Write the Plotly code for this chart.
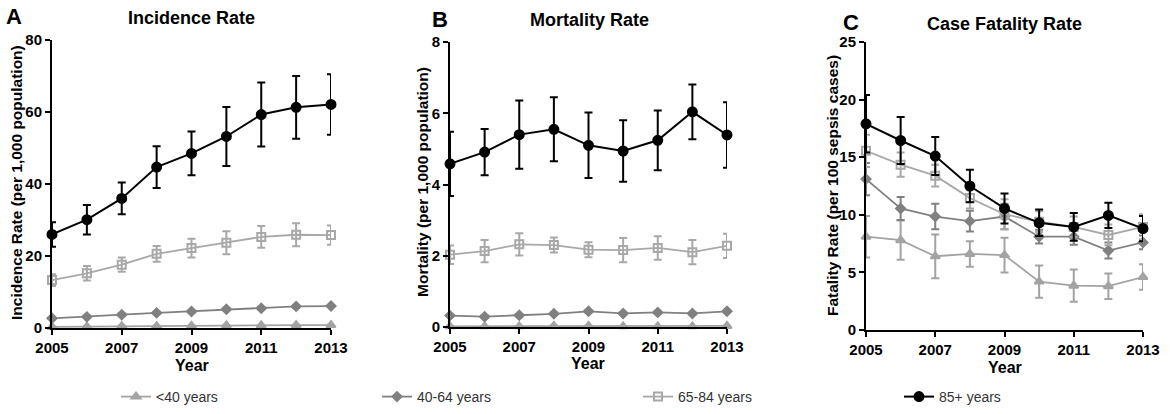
import plotly.graph_objects as go

years = [2005, 2006, 2007, 2008, 2009, 2010, 2011, 2012, 2013]
groups = ["<40 years", "40-64 years", "65-84 years", "85+ years"]

# Panel A: Incidence rate (per 1,000 population)
inc_lt40 = [0.3, 0.4, 0.5, 0.5, 0.6, 0.7, 0.7, 0.8, 0.8]
inc_lt40_err = [0.1, 0.1, 0.1, 0.1, 0.1, 0.1, 0.1, 0.1, 0.1]
inc_40_64 = [2.7, 3.1, 3.7, 4.2, 4.6, 5.2, 5.5, 6.0, 6.1]
inc_40_64_err = [0.3, 0.3, 0.3, 0.3, 0.3, 0.3, 0.3, 0.3, 0.3]
inc_65_84 = [13.3, 15.2, 17.6, 20.6, 22.2, 23.7, 25.3, 25.9, 25.8]
inc_65_84_err = [1.6, 2.0, 2.0, 2.2, 2.6, 3.2, 3.0, 3.2, 2.7]
inc_85 = [26.0, 30.1, 36.0, 44.7, 48.5, 53.2, 59.3, 61.3, 62.1]
inc_85_err = [3.4, 4.1, 4.4, 5.8, 6.1, 8.2, 8.9, 8.7, 8.4]

# Panel B: Mortality (per 1,000 population)
mort_lt40 = [0.02, 0.02, 0.02, 0.03, 0.03, 0.02, 0.02, 0.02, 0.03]
mort_lt40_err = [0.01, 0.01, 0.01, 0.01, 0.01, 0.01, 0.01, 0.01, 0.01]
mort_40_64 = [0.32, 0.29, 0.33, 0.37, 0.44, 0.38, 0.41, 0.38, 0.44]
mort_40_64_err = [0.03, 0.03, 0.03, 0.03, 0.03, 0.03, 0.03, 0.03, 0.03]
mort_65_84 = [2.03, 2.13, 2.32, 2.30, 2.17, 2.16, 2.22, 2.10, 2.28]
mort_65_84_err = [0.26, 0.31, 0.31, 0.21, 0.21, 0.34, 0.33, 0.34, 0.34]
mort_85 = [4.58, 4.91, 5.40, 5.55, 5.10, 4.94, 5.24, 6.04, 5.39]
mort_85_err = [0.90, 0.65, 0.96, 0.90, 0.92, 0.86, 0.84, 0.77, 0.92]

# Panel C: Case fatality (per 100 sepsis cases)
cfr_lt40 = [8.1, 7.8, 6.4, 6.6, 6.5, 4.2, 3.85, 3.8, 4.6]
cfr_lt40_err = [1.8, 1.7, 1.9, 1.1, 1.5, 1.4, 1.4, 1.1, 1.1]
cfr_40_64 = [13.1, 10.55, 9.85, 9.45, 9.85, 8.1, 8.1, 6.9, 7.6]
cfr_40_64_err = [1.4, 1.0, 1.1, 0.9, 1.1, 0.6, 0.7, 0.7, 0.6]
cfr_65_84 = [15.55, 14.35, 13.4, 11.45, 10.05, 9.4, 8.95, 8.25, 8.95]
cfr_65_84_err = [1.4, 1.05, 0.95, 0.9, 1.3, 0.9, 0.9, 0.9, 1.1]
cfr_85 = [17.9, 16.45, 15.1, 12.5, 10.55, 9.3, 8.95, 9.95, 8.8]
cfr_85_err = [2.5, 2.05, 1.65, 1.4, 1.3, 1.15, 1.2, 1.1, 1.1]

styles = {
    "<40 years": dict(color="#a3a3a3", symbol="triangle-up", fill="#a3a3a3", size=8),
    "40-64 years": dict(color="#808080", symbol="diamond", fill="#808080", size=7),
    "65-84 years": dict(color="#a8a8a8", symbol="square-open", fill="#a8a8a8", size=8),
    "85+ years": dict(color="#000000", symbol="circle", fill="#000000", size=9),
}

panels = [
    ("x", "y", [(inc_lt40, inc_lt40_err), (inc_40_64, inc_40_64_err), (inc_65_84, inc_65_84_err), (inc_85, inc_85_err)]),
    ("x2", "y2", [(mort_lt40, mort_lt40_err), (mort_40_64, mort_40_64_err), (mort_65_84, mort_65_84_err), (mort_85, mort_85_err)]),
    ("x3", "y3", [(cfr_lt40, cfr_lt40_err), (cfr_40_64, cfr_40_64_err), (cfr_65_84, cfr_65_84_err), (cfr_85, cfr_85_err)]),
]

W, H = 1170, 414
fig = go.Figure()
for pi, (xa, ya, series) in enumerate(panels):
    for name, (vals, errs) in zip(groups, series):
        s = styles[name]
        lw = 2 if name == "85+ years" else 1.8
        fig.add_trace(go.Scatter(
            x=years, y=vals, xaxis=xa, yaxis=ya, name=name,
            mode="lines+markers", cliponaxis=False,
            showlegend=(pi == 0), legendgroup=name,
            line=dict(color=s["color"], width=lw),
            marker=dict(symbol=s["symbol"], size=s["size"], color=s["fill"],
                        line=dict(color=s["color"], width=2)),
            error_y=dict(type="data", array=errs, visible=True, color=s["color"],
                         thickness=2, width=4),
        ))

def px(x):
    return x / W

def py(y):
    return 1 - y / H

tickfont = dict(family="Liberation Sans, Arial, sans-serif", size=15, color="#000", weight="bold")
axcommon = dict(showline=True, linecolor="#000", linewidth=2, ticks="outside", ticklen=5,
                tickwidth=2, tickcolor="#000", showgrid=False, zeroline=False, tickfont=tickfont)

xdoms = [(52, 331), (450, 727), (866, 1143)]
ydoms = [(40, 328), (42, 327), (42, 330)]
yranges = [(0, 80, 20), (0, 8, 2), (0, 25, 5)]
layout = {}
for i in range(3):
    sfx = "" if i == 0 else str(i + 1)
    anchor_y = "y" + sfx
    anchor_x = "x" + sfx
    layout["xaxis" + sfx] = dict(domain=[px(xdoms[i][0]), px(xdoms[i][1])], anchor=anchor_y,
                                 range=[2005, 2013], tickvals=[2005, 2007, 2009, 2011, 2013],
                                 **axcommon)
    layout["yaxis" + sfx] = dict(domain=[py(ydoms[i][1]), py(ydoms[i][0])], anchor=anchor_x,
                                 range=[yranges[i][0], yranges[i][1]], dtick=yranges[i][2],
                                 tick0=0, **axcommon)

bold = dict(family="Liberation Sans, Arial, sans-serif", color="#000", weight="bold")
ann = []
# Panel letters
for txt, x, y in [("A", 14, 17), ("B", 440, 20), ("C", 851, 22)]:
    ann.append(dict(text=txt, x=px(x), y=py(y), xref="paper", yref="paper", showarrow=False,
                    font=dict(size=22, **bold), xanchor="center", yanchor="middle"))
# Titles
for txt, x, y in [("Incidence Rate", 191, 18), ("Mortality Rate", 589, 20), ("Case Fatality Rate", 1005, 24)]:
    ann.append(dict(text=txt, x=px(x), y=py(y), xref="paper", yref="paper", showarrow=False,
                    font=dict(size=18, **bold), xanchor="center", yanchor="middle"))
# X titles
for x, y in [(192, 365), (588, 363), (1005, 367)]:
    ann.append(dict(text="Year", x=px(x), y=py(y), xref="paper", yref="paper", showarrow=False,
                    font=dict(size=16, **bold), xanchor="center", yanchor="middle"))
# Y titles
for txt, x, yc, fs in [("Incidence Rate (per 1,000 population)", 17, 183, 15.5),
                       ("Mortality (per 1,000 population)", 423, 182, 15.5),
                       ("Fatality Rate (per 100 sepsis cases)", 832, 186, 15.5)]:
    ann.append(dict(text=txt, x=px(x), y=py(yc), xref="paper", yref="paper", showarrow=False,
                    textangle=-90, font=dict(size=fs, **bold), xanchor="center", yanchor="middle"))

fig.update_layout(
    width=W, height=H, margin=dict(l=0, r=0, t=0, b=0, autoexpand=False),
    paper_bgcolor="white", plot_bgcolor="white",
    annotations=ann,
    legend=dict(orientation="h", x=px(116), y=py(397), xanchor="left", yanchor="middle",
                entrywidth=216, entrywidthmode="pixels", itemwidth=30,
                font=dict(family="Liberation Sans Narrow, Liberation Sans, sans-serif",
                          size=14, color="#333")),
    **layout,
)
fig.write_html("out.html", config={"displayModeBar": False},
               post_script="document.body.style.margin='0';document.body.style.padding='0';")
